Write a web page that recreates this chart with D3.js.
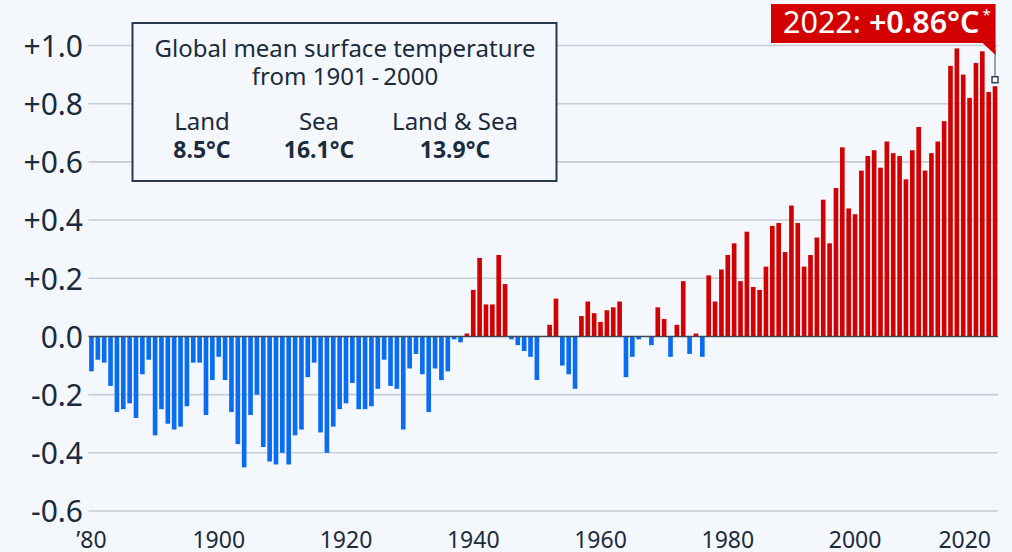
<!DOCTYPE html>
<html>
<head>
<meta charset="utf-8">
<script src="https://cdn.jsdelivr.net/npm/d3@7"></script>
<style>
  html, body { margin: 0; padding: 0; background: #f4f7fb; }
  svg { display: block; font-family: "Noto Sans", "Open Sans", sans-serif; }
</style>
</head>
<body>
<svg id="chart" width="1012" height="552"></svg>
<script>
// ---- data ----
const years = d3.range(1880, 2023);
const anomalies = [
  -0.12, -0.08, -0.09, -0.17, -0.26, -0.25, -0.23, -0.28, -0.13, -0.08,
  -0.34, -0.25, -0.30, -0.32, -0.31, -0.24, -0.09, -0.09, -0.27, -0.15,
  -0.07, -0.15, -0.26, -0.37, -0.45, -0.27, -0.20, -0.38, -0.43, -0.44,
  -0.40, -0.44, -0.34, -0.32, -0.14, -0.09, -0.33, -0.40, -0.31, -0.25,
  -0.23, -0.16, -0.25, -0.25, -0.24, -0.18, -0.08, -0.17, -0.18, -0.32,
  -0.11, -0.06, -0.13, -0.26, -0.11, -0.15, -0.12, -0.01, -0.02, 0.01,
  0.16, 0.27, 0.11, 0.11, 0.28, 0.18, -0.01, -0.03, -0.05, -0.07,
  -0.15, 0.00, 0.04, 0.13, -0.10, -0.13, -0.18, 0.07, 0.12, 0.08,
  0.05, 0.09, 0.10, 0.12, -0.14, -0.07, -0.01, 0.00, -0.03, 0.10,
  0.06, -0.07, 0.04, 0.19, -0.06, 0.01, -0.07, 0.21, 0.12, 0.23,
  0.28, 0.32, 0.19, 0.36, 0.17, 0.16, 0.24, 0.38, 0.39, 0.29,
  0.45, 0.39, 0.24, 0.28, 0.34, 0.47, 0.32, 0.51, 0.65, 0.44,
  0.42, 0.57, 0.62, 0.64, 0.58, 0.67, 0.63, 0.62, 0.54, 0.64,
  0.72, 0.57, 0.63, 0.67, 0.74, 0.93, 0.99, 0.90, 0.82, 0.94,
  0.98, 0.84, 0.86
];
const yTicks = [-0.6, -0.4, -0.2, 0.0, 0.2, 0.4, 0.6, 0.8, 1.0];
const yTickLabels = ["-0.6", "-0.4", "-0.2", "0.0", "+0.2", "+0.4", "+0.6", "+0.8", "+1.0"];
const xTicks = [1880, 1900, 1920, 1940, 1960, 1980, 2000, 2020];
const xTickLabels = ["\u201980", "1900", "1920", "1940", "1960", "1980", "2000", "2020"];
const boxTitle = ["Global mean surface temperature", "from 1901\u2009-\u20092000"];
const boxCategories = ["Land", "Sea", "Land & Sea"];
const boxValues = ["8.5\u00B0C", "16.1\u00B0C", "13.9\u00B0C"];
const highlightYear = 2022;
const highlightPrefix = "2022: ";
const highlightValue = "+0.86\u00B0C";

// ---- style ----
const colNeg = "#0a6cf0";
const colPos = "#d20000";
const textCol = "#1b2b3d";
const gridCol = "#c7cdd6";

const svg = d3.select("#chart");
const left = 88.5, right = 998;
const yTop = 45.5, yBottom = 511;

const x = d3.scaleBand().domain(years).range([left, right]).paddingInner(0.27).paddingOuter(0.1);
const y = d3.scaleLinear().domain([-0.6, 1.0]).range([yBottom, yTop]);

// gridlines
svg.append("g").selectAll("line").data(yTicks.filter(d => d !== 0)).join("line")
  .attr("x1", left).attr("x2", right)
  .attr("y1", d => y(d)).attr("y2", d => y(d))
  .attr("stroke", gridCol).attr("stroke-width", 1.6);

// y axis labels via d3 axis
const yAxis = d3.axisLeft(y).tickValues(yTicks)
  .tickFormat((d, i) => yTickLabels[i]).tickSize(0).tickPadding(0);
const gy = svg.append("g").attr("transform", `translate(83,0)`).call(yAxis);
gy.select(".domain").remove();
gy.selectAll("text").attr("font-size", 30).attr("fill", textCol)
  .attr("font-family", "'Noto Sans', sans-serif").attr("dy", "0.36em");

// bars
svg.append("g").selectAll("rect").data(years).join("rect")
  .attr("x", d => x(d))
  .attr("width", x.bandwidth())
  .attr("y", (d, i) => anomalies[i] >= 0 ? y(anomalies[i]) : y(0))
  .attr("height", (d, i) => Math.abs(y(anomalies[i]) - y(0)))
  .attr("fill", (d, i) => anomalies[i] >= 0 ? colPos : colNeg);

// zero line
svg.append("line").attr("x1", left).attr("x2", right)
  .attr("y1", y(0)).attr("y2", y(0))
  .attr("stroke", "#3d4756").attr("stroke-width", 1.6);

// x axis labels
const xAxis = d3.axisBottom(x).tickValues(xTicks)
  .tickFormat((d, i) => xTickLabels[i]).tickSize(0).tickPadding(0);
const gx = svg.append("g").attr("transform", `translate(0,548)`).call(xAxis);
gx.select(".domain").remove();
gx.selectAll("text").attr("font-size", 23).attr("fill", textCol)
  .attr("font-family", "'Noto Sans', sans-serif").attr("dy", "0");
gx.selectAll(".tick").each(function(d) {
  const t = d3.select(this).select("text");
  const w = t.node().getComputedTextLength();
  const cx = x(d) + x.bandwidth() / 2;
  if (cx + w / 2 > 991) t.attr("x", 991 - w / 2 - cx);
});

// info box
const box = svg.append("g");
box.append("rect").attr("x", 132.5).attr("y", 23).attr("width", 424).attr("height", 158)
  .attr("fill", "#f4f7fb").attr("stroke", "#2a3a4d").attr("stroke-width", 2);
box.selectAll("text.title").data(boxTitle).join("text")
  .attr("class", "title")
  .attr("x", 345).attr("y", (d, i) => 57 + i * 27.5)
  .attr("text-anchor", "middle").attr("font-size", 24).attr("fill", textCol)
  .text(d => d);
const colX = [202, 319, 455];
box.selectAll("text.cat").data(boxCategories).join("text")
  .attr("class", "cat")
  .attr("x", (d, i) => colX[i]).attr("y", 130)
  .attr("text-anchor", "middle").attr("font-size", 24).attr("fill", textCol)
  .text(d => d);
box.selectAll("text.val").data(boxValues).join("text")
  .attr("class", "val")
  .attr("x", (d, i) => colX[i]).attr("y", 158)
  .attr("text-anchor", "middle").attr("font-size", 23).attr("font-weight", 700).attr("fill", textCol)
  .text(d => d);

// highlight annotation
const hi = years.indexOf(highlightYear);
const hx = x(highlightYear) + x.bandwidth() / 2;
const hy = y(anomalies[hi]);
const ann = svg.append("g");
ann.append("line").attr("x1", hx).attr("x2", hx).attr("y1", 50).attr("y2", hy - 9)
  .attr("stroke", "#7a8799").attr("stroke-width", 1.5);
ann.append("rect").attr("x", hx - 3).attr("y", hy - 9.5).attr("width", 6).attr("height", 6)
  .attr("fill", "#ffffff").attr("stroke", "#34435a").attr("stroke-width", 1.5);
ann.append("rect").attr("x", 771).attr("y", 4).attr("width", hx - 771 + 0.5).attr("height", 39)
  .attr("fill", colPos);
ann.append("path").attr("d", `M${hx - 13},42.5 L${hx + 0.5},42.5 L${hx + 0.5},55 Z`).attr("fill", colPos);
const t = ann.append("text").attr("x", 783).attr("y", 33).attr("font-size", 30.5).attr("fill", "#ffffff");
t.append("tspan").text(highlightPrefix);
t.append("tspan").attr("font-weight", 600).text(highlightValue);
t.append("tspan").attr("font-size", 15).attr("dy", -13).attr("dx", 3).text("*");
</script>
</body>
</html>
